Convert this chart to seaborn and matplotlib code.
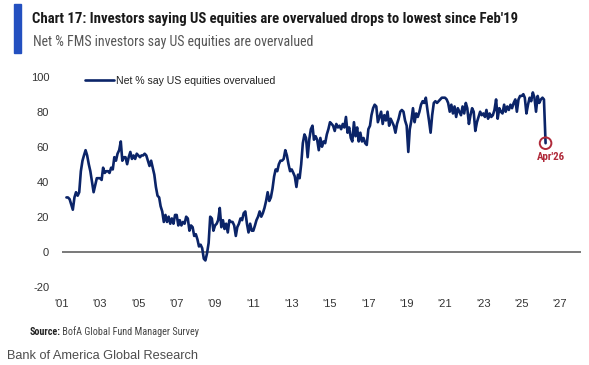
import pandas as pd
import matplotlib
matplotlib.use("Agg")
import matplotlib.pyplot as plt
import seaborn as sns

# Net % FMS investors saying US equities are overvalued, monthly Apr-2001 .. Apr-2026
y2001 = [31, 31, 30, 27, 24, 31, 34, 32, 34]  # Apr-Dec
y2002 = [46, 52, 55, 58, 55, 50, 46, 40, 34, 38, 42, 42]
y2003 = [42, 41, 48, 45, 46, 46, 45, 48, 47, 54, 52, 56]
y2004 = [58, 63, 52, 54, 54, 50, 54, 57, 53, 55, 53, 56]
y2005 = [55, 54, 55, 55, 56, 55, 52, 49, 52, 48, 44, 37]
y2006 = [32, 31, 26, 23, 17, 21, 17, 20, 16, 19, 16, 21]
y2007 = [21, 15, 18, 15, 17, 16, 20, 19, 12, 15, 14, 9]
y2008 = [10, 7, 3, 4, 2, -4, -5, -1, 5, 20, 19, 12]
y2009 = [15, 16, 18, 25, 14, 18, 13, 16, 11, 18, 17, 17]
y2010 = [15, 9, 14, 16, 19, 18, 22, 23, 16, 11, 16, 12]
y2011 = [12, 15, 18, 20, 23, 20, 22, 25, 29, 34, 29, 31]
y2012 = [36, 43, 47, 46, 50, 52, 52, 53, 58, 55, 50, 46]
y2013 = [47, 45, 43, 37, 44, 42, 50, 62, 67, 65, 54, 64]
y2014 = [70, 72, 64, 66, 64, 58, 65, 60, 63, 62, 67, 70]
y2015 = [74, 73, 72, 69, 73, 71, 72, 70, 73, 71, 77, 68]
y2016 = [71, 65, 63, 74, 66, 71, 63, 68, 63, 65, 62, 61]
y2017 = [70, 72, 78, 82, 84, 83, 74, 77, 80, 73, 78, 75]
y2018 = [80, 72, 76, 74, 72, 68, 73, 76, 80, 81, 80, 75]
y2019 = [72, 57, 70, 75, 82, 74, 79, 77, 80, 84, 86, 85]
y2020 = [88, 81, 75, 68, 78, 85, 86, 85, 86, 87, 88, 88]
y2021 = [88, 87, 85, 80, 84, 79, 83, 77, 82, 80, 78, 83]
y2022 = [79, 85, 82, 73, 78, 82, 80, 69, 74, 77, 80, 78]
y2023 = [79, 77, 81, 76, 79, 77, 78, 81, 87, 76, 82, 80]
y2024 = [79, 84, 80, 83, 81, 84, 82, 85, 87, 80, 87, 89]
y2025 = [89, 90, 88, 79, 84, 88, 86, 91, 88, 80, 89, 85]
y2026 = [87, 88, 87, 62]  # Jan-Apr

values = (y2001 + y2002 + y2003 + y2004 + y2005 + y2006 + y2007 + y2008 + y2009
          + y2010 + y2011 + y2012 + y2013 + y2014 + y2015 + y2016 + y2017 + y2018
          + y2019 + y2020 + y2021 + y2022 + y2023 + y2024 + y2025 + y2026)
dates = pd.date_range("2001-04-01", periods=len(values), freq="MS")
df = pd.DataFrame({"date": dates, "value": values})

tick_years = list(range(2001, 2028, 2))
tick_labels = ["'" + str(y)[2:] for y in tick_years]
yticks = [-20, 0, 20, 40, 60, 80, 100]

NAVY = "#0b2468"
RED = "#b02a3a"
BLUE = "#2350c0"
COND = ["Roboto Condensed", "DejaVu Sans"]

sns.set_theme(style="white")
plt.rcParams["font.family"] = ["Liberation Sans", "DejaVu Sans"]
plt.rcParams["axes.unicode_minus"] = False

fig = plt.figure(figsize=(5.89, 3.65), dpi=100)
ax = fig.add_axes([61.7 / 589, 78.3 / 365, 519.3 / 589, 210 / 365])

ax.axhline(0, color="#555555", lw=1.1, zorder=1)
sns.lineplot(data=df, x="date", y="value", ax=ax, color=NAVY, lw=1.9,
             label="Net % say US equities overvalued", zorder=3)

# last reading: circled and labelled
last = df.iloc[-1]
ax.scatter([last["date"]], [last["value"]], s=70, facecolors="none",
           edgecolors=RED, linewidths=1.4, zorder=4)
ax.annotate("Apr'26", (last["date"], last["value"]), xytext=(4, -6),
            textcoords="offset points", ha="center", va="top",
            color=RED, fontsize=7.8, fontweight="bold", family=COND)

ax.set_xlim(pd.Timestamp("2001-01-01"), pd.Timestamp("2028-02-05"))
ax.set_ylim(-20, 100)
ax.set_xticks([pd.Timestamp(f"{y}-01-01") for y in tick_years])
ax.set_xticklabels(tick_labels)
ax.set_yticks(yticks)
ax.set_yticklabels([str(v) for v in yticks])
ax.tick_params(axis="both", length=0, labelsize=8, colors="#333333")
ax.tick_params(axis="x", pad=9)
ax.tick_params(axis="y", pad=9)
ax.set_xlabel("")
ax.set_ylabel("")
for s in ax.spines.values():
    s.set_visible(False)

leg = ax.legend(loc="center left", bbox_to_anchor=(0.045, 0.981), frameon=False,
                fontsize=7.6, handlelength=2.7, handletextpad=0.2,
                borderpad=0, borderaxespad=0)
for t in leg.get_texts():
    t.set_color("#222222")

# header
fig.patches.append(plt.Rectangle((14 / 589, 1 - 52.7 / 365), 6.5 / 589, 48.7 / 365,
                                 transform=fig.transFigure, color=BLUE))
fig.text(32.5 / 589, 1 - 22.7 / 365,
         "Chart 17: Investors saying US equities are overvalued drops to lowest since Feb'19",
         fontsize=10.6, fontweight="bold", color="#1a1a1a", va="baseline", family=COND)
fig.text(33 / 589, 1 - 46 / 365, "Net % FMS investors say US equities are overvalued",
         fontsize=10.0, color="#555555", va="baseline", family=COND)

# footer
src = fig.text(29.5 / 589, 1 - 335 / 365, "Source:", fontsize=7.3, fontweight="bold",
               color="#222222", va="baseline", family=COND)
ax.annotate(" BofA Global Fund Manager Survey", xy=(1, 0), xycoords=src,
            va="bottom", ha="left", fontsize=7.3, color="#444444", family=COND,
            annotation_clip=False)
fig.text(6.7 / 589, 1 - 359 / 365, "Bank of America Global Research", fontsize=9.2,
         color="#4d4d4d", va="baseline")

fig.savefig("out.png", dpi=100)
